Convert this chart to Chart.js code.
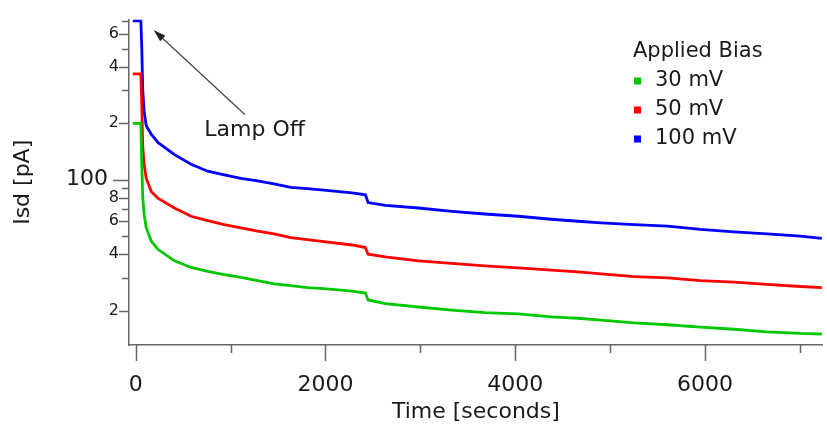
<!DOCTYPE html>
<html>
<head>
<meta charset="utf-8">
<script src="https://cdn.jsdelivr.net/npm/chart.js@4.4.0/dist/chart.umd.min.js"></script>
<style>
    html, body { margin: 0; padding: 0; background: #fff; }
    #wrap { width: 827px; height: 432px; }
</style>
</head>
<body>
<div id="wrap"><canvas id="biasChart" width="827" height="432"></canvas></div>
<script>
const timeSec = [-30, 55, 65, 75, 90, 112, 164, 234, 409, 584, 759, 934, 1109, 1284, 1459, 1634, 1808, 1983,
    2281, 2421, 2449, 2631, 2980, 3330, 3680, 4030, 4380, 4659, 4904, 5254, 5604, 5953, 6303, 6653, 7002, 7230];

const bias30 = [200, 200, 120, 80, 65, 55.3, 47.1, 42.5, 36.9, 34.0, 32.4, 31.1, 30.1, 28.9, 27.8, 27.2, 26.5, 26.2,
    25.4, 24.8, 22.8, 21.8, 20.9, 20.1, 19.5, 19.2, 18.5, 18.2, 17.8, 17.2, 16.8, 16.3, 15.9, 15.4, 15.1, 15.0];
const bias50 = [367, 367, 250, 150, 120, 101.6, 86.4, 79.7, 70.6, 63.8, 60.5, 57.6, 55.3, 53.1, 51.4, 49.0, 47.8, 46.7,
    44.8, 43.4, 40.0, 38.7, 36.9, 35.7, 34.7, 33.8, 32.9, 32.2, 31.4, 30.4, 29.9, 28.9, 28.4, 27.6, 26.9, 26.5];
const bias100 = [705, 705, 500, 300, 230, 194, 175, 158, 136, 121, 111, 106, 101.5, 98.5, 95, 91, 89.5, 88,
    85, 83, 75.5, 73, 70.6, 67.8, 65.6, 63.8, 61.5, 60, 58.8, 57.6, 56.5, 54.3, 52.7, 51.4, 50, 48.6];

const seriesLabels = ["30 mV", "50 mV", "100 mV"];
const seriesColors = ["#00c800", "#ff0000", "#0000ff"];

const yTickValues = [20, 30, 40, 50, 60, 70, 80, 90, 100, 200, 300, 400, 500, 600, 700];
const yTickLabels = ["2", "", "4", "", "6", "", "8", "", "100", "2", "", "4", "", "6", ""];
const xTickValues = [0, 1000, 2000, 3000, 4000, 5000, 6000, 7000];
const xTickLabels = ["0", "", "2000", "", "4000", "", "6000", ""];

// annotation anchored in data units
const lampNote = { text: "Lamp Off", tipX: 190, tipY: 630, tailX: 1150, tailY: 223, textX: 724, textY: 184 };

const axisColor = "#666";
const textColor = "#1a1a1a";

Chart.defaults.font.family = "'DejaVu Sans', sans-serif";

const pairs = (vals) => timeSec.map((t, i) => ({ x: t, y: vals[i] }));

const tickMarks = {
    id: "tickMarks",
    afterDraw(chart) {
        const { ctx, scales: { x, y } } = chart;
        ctx.save();
        ctx.strokeStyle = axisColor;
        ctx.lineWidth = 1.5;
        ctx.beginPath();
        yTickValues.forEach((v, i) => {
            const py = Math.round(y.getPixelForValue(v)) + 0.5;
            const len = v === 100 ? 16 : (yTickLabels[i] ? 10 : 7);
            ctx.moveTo(y.right - len, py);
            ctx.lineTo(y.right, py);
        });
        xTickValues.forEach((v, i) => {
            const px = Math.round(x.getPixelForValue(v)) + 0.5;
            const len = xTickLabels[i] ? 16 : 8;
            ctx.moveTo(px, x.top);
            ctx.lineTo(px, x.top + len);
        });
        ctx.stroke();
        ctx.restore();
    }
};

const legendBox = {
    id: "legendBox",
    afterDraw(chart) {
        const { ctx } = chart;
        ctx.save();
        ctx.font = "21px 'DejaVu Sans', sans-serif";
        ctx.fillStyle = textColor;
        ctx.textBaseline = "middle";
        ctx.fillText("Applied Bias", 633, 52);
        chart.data.datasets.forEach((ds, i) => {
            const cy = 81 + i * 29;
            ctx.fillStyle = ds.borderColor;
            ctx.fillRect(634, cy - 3.5, 7, 7);
            ctx.fillStyle = textColor;
            ctx.fillText(ds.label, 655, cy);
        });
        ctx.restore();
    }
};

const lampArrow = {
    id: "lampArrow",
    afterDraw(chart) {
        const { ctx, scales: { x, y } } = chart;
        const tx = x.getPixelForValue(lampNote.tipX), ty = y.getPixelForValue(lampNote.tipY);
        const sx = x.getPixelForValue(lampNote.tailX), sy = y.getPixelForValue(lampNote.tailY);
        const ang = Math.atan2(ty - sy, tx - sx);
        ctx.save();
        ctx.strokeStyle = "#444";
        ctx.fillStyle = "#222";
        ctx.lineWidth = 1.2;
        ctx.beginPath();
        ctx.moveTo(sx, sy);
        ctx.lineTo(tx - 8 * Math.cos(ang), ty - 8 * Math.sin(ang));
        ctx.stroke();
        ctx.beginPath();
        ctx.moveTo(tx, ty);
        ctx.lineTo(tx - 13 * Math.cos(ang - 0.3), ty - 13 * Math.sin(ang - 0.3));
        ctx.lineTo(tx - 13 * Math.cos(ang + 0.3), ty - 13 * Math.sin(ang + 0.3));
        ctx.closePath();
        ctx.fill();
        ctx.font = "22px 'DejaVu Sans', sans-serif";
        ctx.fillStyle = textColor;
        ctx.textBaseline = "middle";
        ctx.fillText(lampNote.text, x.getPixelForValue(lampNote.textX), y.getPixelForValue(lampNote.textY));
        ctx.restore();
    }
};

new Chart(document.getElementById("biasChart"), {
    type: "line",
    data: {
        datasets: [bias30, bias50, bias100].map((vals, i) => ({
            label: seriesLabels[i],
            data: pairs(vals),
            borderColor: seriesColors[i],
            backgroundColor: seriesColors[i],
            borderWidth: 2.8,
            pointRadius: 0,
            tension: 0,
            fill: false,
        })),
    },
    options: {
        responsive: false,
        animation: false,
        layout: { padding: { top: 16, right: 0, left: 0, bottom: 0 } },
        plugins: { legend: { display: false }, tooltip: { enabled: false } },
        scales: {
            x: {
                type: "linear",
                min: -70,
                max: 7240,
                afterBuildTicks: (s) => { s.ticks = xTickValues.map((v) => ({ value: v })); },
                afterFit: (s) => { s.height = 87; },
                grid: { display: false, drawTicks: false },
                border: { color: axisColor, width: 1.5 },
                ticks: {
                    autoSkip: false,
                    maxRotation: 0,
                    padding: 27,
                    color: textColor,
                    font: { size: 22 },
                    callback: (v, i) => xTickLabels[i],
                },
                title: { display: true, text: "Time [seconds]", color: textColor, font: { size: 22 }, padding: { top: 0, bottom: 7 } },
            },
            y: {
                type: "logarithmic",
                min: 13.1,
                max: 716,
                afterBuildTicks: (s) => { s.ticks = yTickValues.map((v) => ({ value: v })); },
                afterFit: (s) => { s.width = 129; },
                grid: { display: false, drawTicks: false },
                border: { color: axisColor, width: 1.5 },
                ticks: {
                    autoSkip: false,
                    padding: 10,
                    color: textColor,
                    font: (c) => ({ size: c.tick && c.tick.value === 100 ? 22 : 16 }),
                    callback: (v, i) => (yTickValues[i] === 100 ? yTickLabels[i] + "\u2002" : yTickLabels[i]),
                },
                title: { display: true, text: "Isd [pA]", color: textColor, font: { size: 22 }, padding: { top: 10, bottom: 0 } },
            },
        },
    },
    plugins: [tickMarks, legendBox, lampArrow],
});
</script>
</body>
</html>
